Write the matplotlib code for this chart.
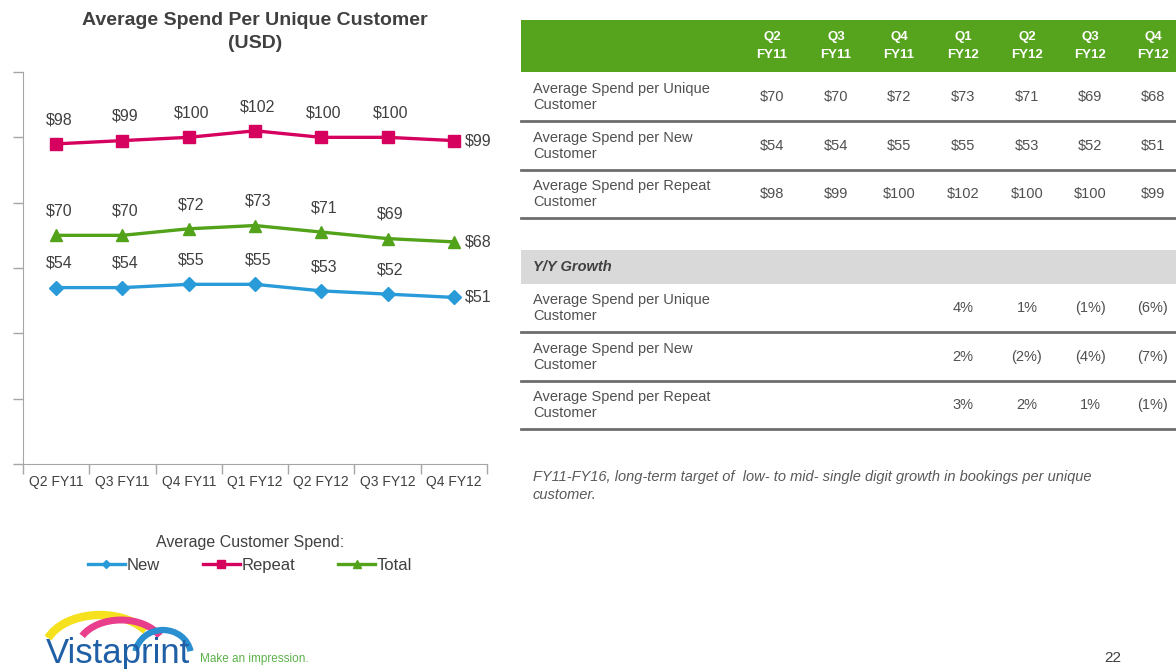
import numpy as np
import matplotlib.pyplot as plt
from matplotlib import font_manager
from matplotlib.patches import Rectangle, Arc

plt.rcParams['font.family'] = ['Liberation Sans', 'DejaVu Sans']

# datos del grafico
quarters = ['Q2 FY11', 'Q3 FY11', 'Q4 FY11', 'Q1 FY12', 'Q2 FY12', 'Q3 FY12', 'Q4 FY12']
new_spend = [54, 54, 55, 55, 53, 52, 51]
repeat_spend = [98, 99, 100, 102, 100, 100, 99]
total_spend = [70, 70, 72, 73, 71, 69, 68]

# datos de la tabla
header_labels = ['Q2\nFY11', 'Q3\nFY11', 'Q4\nFY11', 'Q1\nFY12', 'Q2\nFY12', 'Q3\nFY12', 'Q4\nFY12']
row_labels = ['Average Spend per Unique\nCustomer',
              'Average Spend per New\nCustomer',
              'Average Spend per Repeat\nCustomer']
growth_unique = ['4%', '1%', '(1%)', '(6%)']
growth_new = ['2%', '(2%)', '(4%)', '(7%)']
growth_repeat = ['3%', '2%', '1%', '(1%)']

c_new = '#2A9BD9'
c_rep = '#D6005F'
c_tot = '#52A21A'
c_txt = '#404040'

fig = plt.figure(figsize=(11.76, 6.69), dpi=100)

# Grafico de lineas
ax = fig.add_axes([23 / 1176, 1 - 464 / 669, 464 / 1176, 392 / 669])
x = np.arange(len(quarters))
series = [(new_spend, c_new, 'D', 7, 'New'),
          (repeat_spend, c_rep, 's', 9, 'Repeat'),
          (total_spend, c_tot, '^', 9, 'Total')]
handles = []
for vals, col, mk, ms, name in series:
    h, = ax.plot(x, vals, color=col, lw=2.4, marker=mk, ms=ms, label=name)
    handles.append(h)
    for i, v in enumerate(vals):
        if i == len(vals) - 1:
            ax.annotate('$%d' % v, (x[i], v), xytext=(8, 0), textcoords='offset points',
                        ha='left', va='center', fontsize=11.5, color=c_txt)
        else:
            ax.annotate('$%d' % v, (x[i], v), xytext=(2, 12), textcoords='offset points',
                        ha='center', va='bottom', fontsize=11.5, color=c_txt)

ax.set_xlim(-0.5, 6.5)
ax.set_ylim(0, 120)
ax.set_yticks(np.arange(0, 121, 20))
ax.set_yticklabels([])
ax.set_xticks(np.arange(-0.5, 7, 1))
ax.set_xticklabels([])
ax.set_xticks(x, minor=True)
ax.set_xticklabels(quarters, minor=True, fontsize=10, color=c_txt)
ax.tick_params(axis='x', which='minor', length=0, pad=8)
ax.tick_params(axis='both', which='major', length=7, color='#A6A6A6', width=1)
for s in ['top', 'right']:
    ax.spines[s].set_visible(False)
for s in ['left', 'bottom']:
    ax.spines[s].set_color('#A6A6A6')
ax.set_title('Average Spend Per Unique Customer\n(USD)', fontsize=14, fontweight='bold',
             color=c_txt, pad=17, linespacing=1.5)

leg = fig.legend(handles=handles, loc='center', bbox_to_anchor=(250 / 1176, 1 - 554 / 669),
                 ncol=3, frameon=False, fontsize=12, title='Average Customer Spend:',
                 title_fontsize=11.5, handlelength=2.2, handletextpad=0.1, columnspacing=2.6,
                 markerscale=0.6)
for t in leg.get_texts():
    t.set_color(c_txt)
leg.get_title().set_color(c_txt)

# Capa para tabla y logo, en pixeles
ov = fig.add_axes([0, 0, 1, 1], zorder=-1)
ov.set_xlim(0, 1176)
ov.set_ylim(669, 0)
ov.axis('off')

col_x = [772, 836, 899, 963, 1027, 1090, 1153]
ov.add_patch(Rectangle((521, 20), 660, 52, color='#56A31E', lw=0))
for cx, lab in zip(col_x, header_labels):
    top, bot = lab.split('\n')
    ov.text(cx, 37, top, ha='center', va='center', color='white', fontsize=9.5, fontweight='bold')
    ov.text(cx, 55, bot, ha='center', va='center', color='white', fontsize=9.5, fontweight='bold')

table_vals = [total_spend, new_spend, repeat_spend]
row_y = [97, 146, 194]
for yy, lab, vals in zip(row_y, row_labels, table_vals):
    ov.text(533, yy, lab, ha='left', va='center', fontsize=10.5, color='#505050', linespacing=1.25)
    for cx, v in zip(col_x, vals):
        ov.text(cx, yy, '$%d' % v, ha='center', va='center', fontsize=10.5, color='#505050')
    ov.plot([521, 1176], [yy + 24, yy + 24], color='#6E6E6E', lw=2)

ov.add_patch(Rectangle((521, 250), 660, 34, color='#D9D9D9', lw=0))
ov.text(533, 267, 'Y/Y Growth', ha='left', va='center', fontsize=10.5, color=c_txt,
        fontweight='bold', style='italic')

growth_rows = [growth_unique, growth_new, growth_repeat]
g_y = [308, 357, 405]
for yy, lab, vals in zip(g_y, row_labels, growth_rows):
    ov.text(533, yy, lab, ha='left', va='center', fontsize=10.5, color='#505050', linespacing=1.25)
    for cx, v in zip(col_x[3:], vals):
        ov.text(cx, yy, v, ha='center', va='center', fontsize=10.5, color='#505050')
    ov.plot([521, 1176], [yy + 24, yy + 24], color='#6E6E6E', lw=2)

ov.text(533, 486, 'FY11-FY16, long-term target of  low- to mid- single digit growth in bookings per unique\ncustomer.',
        ha='left', va='center', fontsize=10.5, color='#595959', style='italic', linespacing=1.3)

# Logo (eje y invertido: angulos 180-360 quedan arriba)
ov.add_patch(Arc((100, 652), 112, 74, theta1=195, theta2=335, color='#F5E11E', lw=6, zorder=2))
ov.add_patch(Arc((121, 650), 88, 60, theta1=200, theta2=340, color='#E83E8C', lw=5, zorder=3))
ov.add_patch(Arc((163, 656), 56, 52, theta1=190, theta2=350, color='#2A8FD0', lw=4.5, zorder=4))
names = {f.name for f in font_manager.fontManager.ttflist}
if 'Liberation Sans Narrow' in names:
    ov.text(46, 663, 'Vistaprint', ha='left', va='baseline', fontsize=31, color='#1F5FA6',
            family='Liberation Sans Narrow', zorder=5)
else:
    ov.text(46, 663, 'Vistaprint', ha='left', va='baseline', fontsize=25, color='#1F5FA6', zorder=5)
ov.text(200, 659, 'Make an impression.', ha='left', va='center', fontsize=8.5, color='#5DB14B')
ov.text(1113, 658, '22', ha='center', va='center', fontsize=11, color=c_txt)

fig.savefig('out.png', dpi=100)
